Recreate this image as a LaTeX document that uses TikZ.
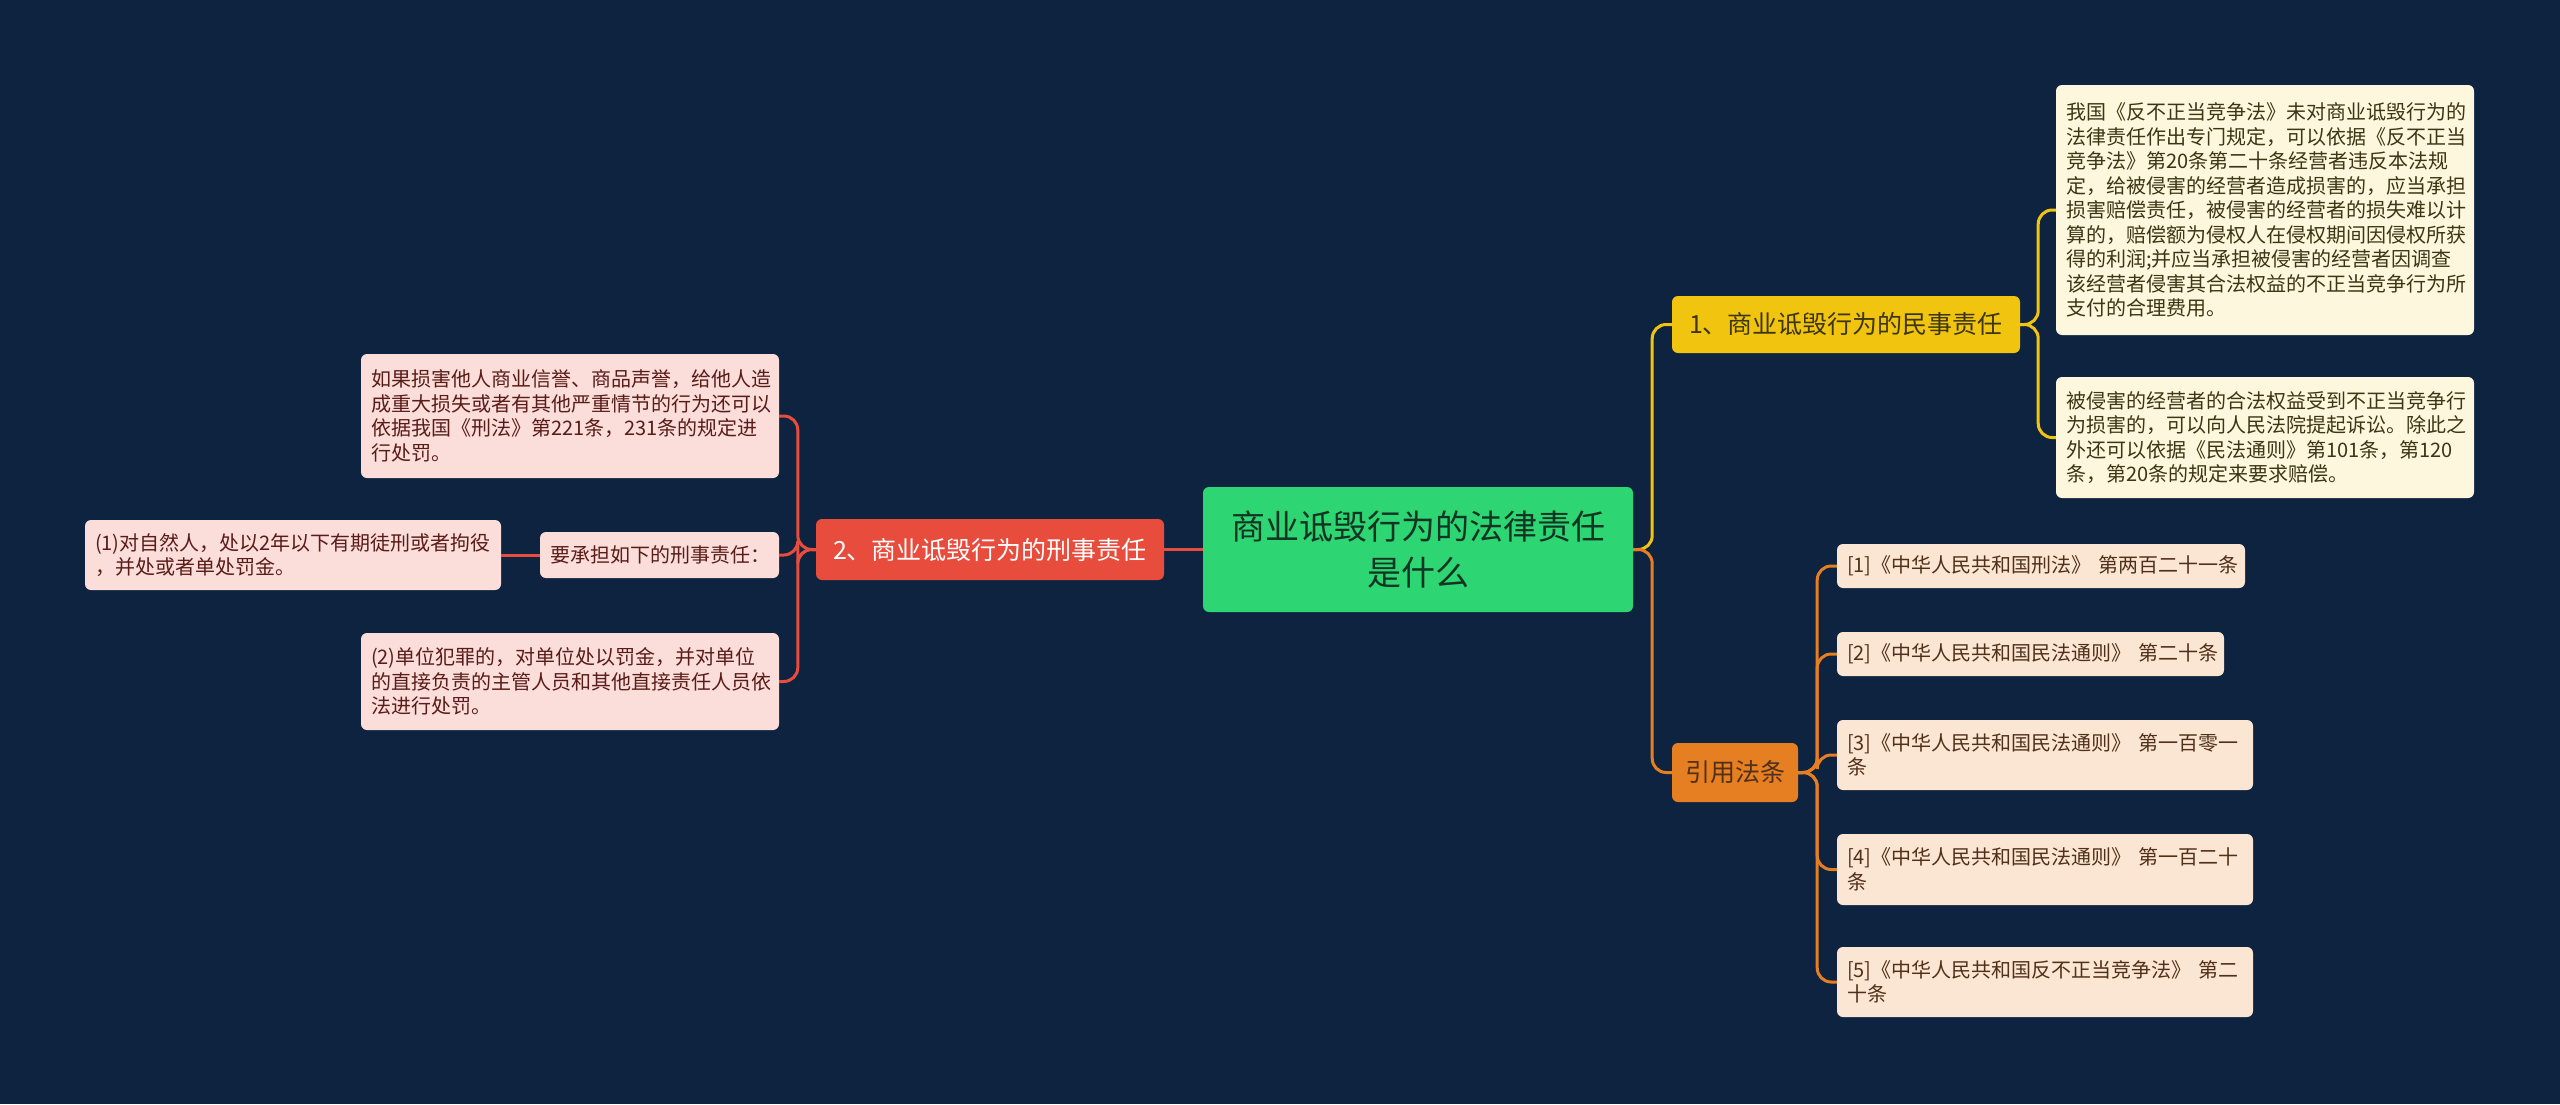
\documentclass[tikz,border=0pt]{standalone}
\usepackage{fontspec}
\usepackage{xcolor}
\setmainfont{Noto Sans CJK SC}
\definecolor{bgnavy}{RGB}{14,35,64}
\definecolor{rootgreen}{RGB}{46,213,115}
\definecolor{crimred}{RGB}{231,76,60}
\definecolor{civyellow}{RGB}{241,196,15}
\definecolor{citeorange}{RGB}{230,126,34}
\definecolor{pinkfill}{RGB}{251,221,218}
\definecolor{creamfill}{RGB}{253,247,222}
\definecolor{peachfill}{RGB}{251,230,212}
\definecolor{pinktext}{RGB}{90,28,24}
\definecolor{creamtext}{RGB}{60,54,20}
\definecolor{peachtext}{RGB}{80,48,24}
\definecolor{roottext}{RGB}{18,52,34}
\begin{document}
\begin{tikzpicture}[x=1pt,y=-1pt,
  box/.style={rounded corners=6pt,inner xsep=10pt,inner ysep=0pt,align=left,font=\fontsize{20}{24.5}\selectfont},
  pinkbox/.style={box,fill=pinkfill,text=pinktext},
  creambox/.style={box,fill=creamfill,text=creamtext},
  peachbox/.style={box,fill=peachfill,text=peachtext},
  branch/.style={rounded corners=6pt,inner sep=0pt,align=center,font=\fontsize{25}{30}\selectfont},
  link/.style={line width=3pt,rounded corners=14pt}]
\fill [bgnavy] (0,0) rectangle (2560,1104);
%
\node (root) at (1418,549.5) [rounded corners=6pt,fill=rootgreen,text=roottext,align=center,minimum width=430pt,minimum height=125pt,font=\fontsize{34}{46}\selectfont] {商业诋毁行为的法律责任\\是什么};
\node (crim) at (990,549.5) [branch,fill=crimred,text=white,minimum width=348pt,minimum height=61pt] {2、商业诋毁行为的刑事责任};
\node (civ) at (1846,324.5) [branch,fill=civyellow,text=creamtext,minimum width=348pt,minimum height=57pt] {1、商业诋毁行为的民事责任};
\node (cite) at (1735,772.5) [branch,fill=citeorange,text=peachtext,minimum width=126pt,minimum height=59pt] {引用法条};
%
\node (ptop) at (570,416) [pinkbox,text width=398pt,minimum height=124pt] {如果损害他人商业信誉、商品声誉，给他人造\\成重大损失或者有其他严重情节的行为还可以\\依据我国《刑法》第221条，231条的规定进\\行处罚。};
\node (need) at (659.5,555) [pinkbox,text width=219pt,minimum height=46pt] {要承担如下的刑事责任：};
\node (p1) at (293,555) [pinkbox,text width=396pt,minimum height=70pt] {(1)对自然人，处以2年以下有期徒刑或者拘役\\，并处或者单处罚金。};
\node (p2) at (570,681.5) [pinkbox,text width=398pt,minimum height=97pt] {(2)单位犯罪的，对单位处以罚金，并对单位\\的直接负责的主管人员和其他直接责任人员依\\法进行处罚。};
%
\node (t1) at (2265,210) [creambox,text width=398pt,minimum height=250pt] {我国《反不正当竞争法》未对商业诋毁行为的\\法律责任作出专门规定，可以依据《反不正当\\竞争法》第20条第二十条经营者违反本法规\\定，给被侵害的经营者造成损害的，应当承担\\损害赔偿责任，被侵害的经营者的损失难以计\\算的，赔偿额为侵权人在侵权期间因侵权所获\\得的利润;并应当承担被侵害的经营者因调查\\该经营者侵害其合法权益的不正当竞争行为所\\支付的合理费用。};
\node (t2) at (2265,437.5) [creambox,text width=398pt,minimum height=121pt] {被侵害的经营者的合法权益受到不正当竞争行\\为损害的，可以向人民法院提起诉讼。除此之\\外还可以依据《民法通则》第101条，第120\\条，第20条的规定来要求赔偿。};
%
\node (r1) at (2041,566) [peachbox,text width=388pt,minimum height=44pt] {[1]《中华人民共和国刑法》~第两百二十一条};
\node (r2) at (2030.5,654) [peachbox,text width=367pt,minimum height=44pt] {[2]《中华人民共和国民法通则》~第二十条};
\node (r3) at (2045,755) [peachbox,text width=396pt,minimum height=70pt] {[3]《中华人民共和国民法通则》 第一百零一\\条};
\node (r4) at (2045,869.5) [peachbox,text width=396pt,minimum height=71pt] {[4]《中华人民共和国民法通则》 第一百二十\\条};
\node (r5) at (2045,982) [peachbox,text width=396pt,minimum height=70pt] {[5]《中华人民共和国反不正当竞争法》 第二\\十条};
%
\draw [link,crimred] (root.west) -- (crim.east);
\draw [link,crimred] (crim.west) -- ++(-18,0) |- (ptop.east);
\draw [link,crimred] (crim.west) -- ++(-18,0) |- (need.east);
\draw [link,crimred] (crim.west) -- ++(-18,0) |- (p2.east);
\draw [link,crimred] (need.west) -- (p1.east);
\draw [link,civyellow] (root.east) -- ++(19,0) |- (civ.west);
\draw [link,citeorange] (root.east) -- ++(19,0) |- (cite.west);
\draw [link,civyellow] (civ.east) -- ++(18,0) |- (t1.west);
\draw [link,civyellow] (civ.east) -- ++(18,0) |- (t2.west);
\foreach \r in {r1,r2,r3,r4,r5}
  \draw [link,citeorange] (cite.east) -- ++(19,0) |- (\r.west);
\end{tikzpicture}
\end{document}
